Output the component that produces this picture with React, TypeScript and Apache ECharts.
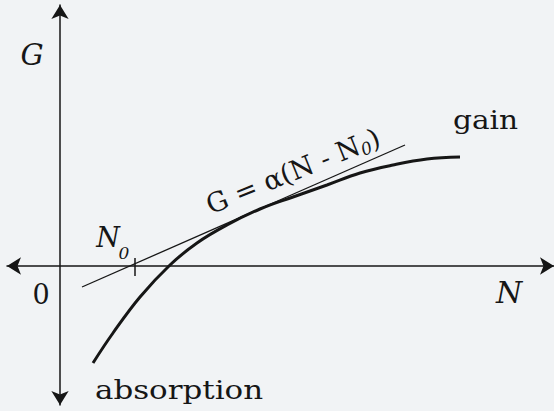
import React, { useEffect, useRef } from "react";
import * as echarts from "echarts";

// Gain curve G(N): bends down into absorption below the transparency point
const curveN = [0.825, 1.325, 2.0, 2.75, 3.425, 4.175, 5.0, 5.825, 6.675, 7.5, 8.325, 9.175, 10.0];
const curveG = [-2.425, -1.675, -0.775, 0.025, 0.575, 1.025, 1.425, 1.725, 2.025, 2.325, 2.525, 2.675, 2.725];

// Linear approximation G = a(N - N0), drawn between two end points
const tangentN = [0.55, 8.625];
const tangentG = [-0.525, 3.025];

// Small tick marking N0 on the N axis
const tickN = [1.875, 1.875];
const tickG = [-0.25, 0.2];

const INK = "#161616";
const SERIF = "'DejaVu Serif', 'Liberation Serif', serif";

const pairs = (xs: number[], ys: number[]) => xs.map((x, i) => [x, ys[i]]);

export default function App() {
  const ref = useRef<HTMLDivElement>(null);

  useEffect(() => {
    if (!ref.current) return;
    const chart = echarts.init(ref.current, undefined, { renderer: "svg" });

    const axisCommon = {
      type: "value" as const,
      axisLine: {
        show: true,
        onZero: true,
        symbol: ["arrow", "arrow"],
        symbolSize: [13, 14],
        lineStyle: { color: INK, width: 1.5 },
      },
      axisTick: { show: false },
      axisLabel: { show: false },
      splitLine: { show: false },
    };

    const text = (
      t: string,
      x: number,
      y: number,
      size: number,
      opts: { italic?: boolean; align?: string; scaleX?: number; rotation?: number } = {}
    ) => ({
      type: "text",
      x,
      y,
      scaleX: opts.scaleX ?? 1,
      rotation: opts.rotation ?? 0,
      style: {
        text: t,
        x: 0,
        y: 0,
        fill: INK,
        font: `${opts.italic ? "italic " : ""}${size}px ${SERIF}`,
        align: opts.align ?? "center",
        verticalAlign: "middle",
      },
    });

    chart.setOption({
      animation: false,
      backgroundColor: "#f1f3f5",
      grid: { left: 7, right: 0, top: 5, bottom: 6, containLabel: false },
      xAxis: { ...axisCommon, min: -1.325, max: 12.35 },
      yAxis: { ...axisCommon, min: -3.475, max: 6.525 },
      series: [
        {
          name: "gain",
          type: "line",
          smooth: 0.4,
          symbol: "none",
          data: pairs(curveN, curveG),
          lineStyle: { color: INK, width: 3 },
        },
        {
          name: "linear",
          type: "line",
          symbol: "none",
          data: pairs(tangentN, tangentG),
          lineStyle: { color: INK, width: 1.3 },
        },
        {
          name: "N0",
          type: "line",
          symbol: "none",
          data: pairs(tickN, tickG),
          lineStyle: { color: INK, width: 1.5 },
        },
      ],
      graphic: [
        text("G", 32, 55, 29, { italic: true }),
        text("0", 41, 294, 27),
        text("N", 509, 292, 30, { italic: true }),
        text("N", 108, 237, 27, { italic: true }),
        text("0", 124, 253, 17, { italic: true }),
        text("gain", 453, 120, 26, { align: "left", scaleX: 1.14 }),
        text("absorption", 95, 390, 26, { align: "left", scaleX: 1.19 }),
        {
          type: "text",
          x: 293,
          y: 171,
          rotation: (22 * Math.PI) / 180,
          style: {
            text: "{m|G = α(N - N}{s|0}{m|)}",
            x: 0,
            y: 0,
            fill: INK,
            fontSize: 27,
            fontFamily: SERIF,
            align: "center",
            verticalAlign: "middle",
            rich: {
              m: { fontSize: 27, fontFamily: SERIF, fill: INK, lineHeight: 30 },
              s: {
                fontSize: 17,
                fontStyle: "italic",
                fontFamily: SERIF,
                fill: INK,
                lineHeight: 30,
                verticalAlign: "bottom",
                padding: [12, 0, 0, 0],
              },
            },
          },
        },
      ],
    });

    return () => chart.dispose();
  }, []);

  return (
    <div
      ref={ref}
      style={{ position: "absolute", left: 0, top: 0, width: 554, height: 411 }}
    />
  );
}
